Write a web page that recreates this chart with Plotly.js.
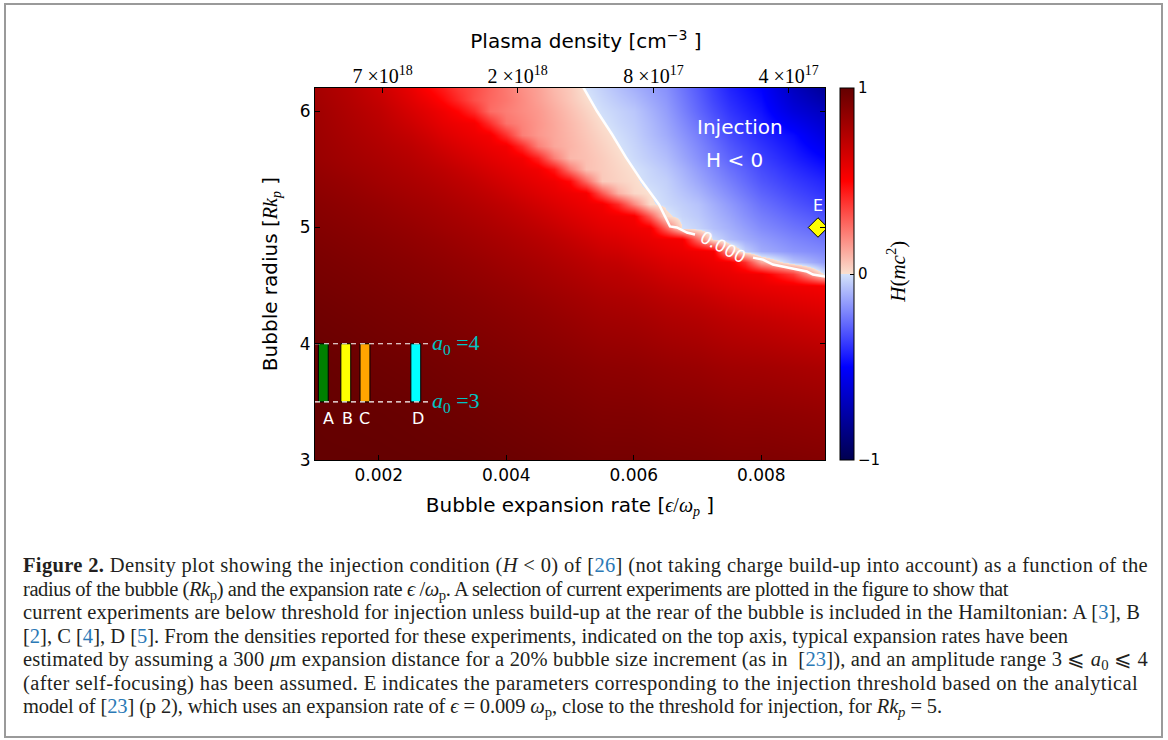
<!DOCTYPE html>
<html>
<head>
<meta charset="utf-8">
<script src="https://cdn.plot.ly/plotly-3.0.1.min.js"></script>
<style>
html,body{margin:0;padding:0;background:#fff;}
#wrap{position:relative;width:1168px;height:740px;overflow:hidden;background:#fff;}
#chart{position:absolute;left:0;top:0;width:1168px;height:740px;}
#frame{position:absolute;left:4px;top:3px;width:1155px;height:731px;border:2px solid #9a9a9a;pointer-events:none;}
#caption{position:absolute;left:23px;top:554px;font-family:'Liberation Serif','DejaVu Serif',serif;font-size:20.5px;line-height:23.5px;color:#231f20;}
#caption .ln{white-space:nowrap;height:23.5px;}
#caption .ln span{display:inline-block;transform-origin:0 50%;white-space:nowrap;}
#caption a{color:#2b79b6;text-decoration:none;}
#caption sub{font-size:0.72em;line-height:0;vertical-align:-0.28em;}
</style>
</head>
<body>
<div id="wrap">
<div id="chart"></div>
<div id="caption">
<div class="ln" data-w="1125"><span><b>Figure 2.</b> Density plot showing the injection condition (<i>H</i> &lt; 0) of [<a>26</a>] (not taking charge build-up into account) as a function of the</span></div>
<div class="ln" data-w="985"><span>radius of the bubble (<i>Rk</i><sub>p</sub>) and the expansion rate <i>ϵ</i> /<i>ω</i><sub>p</sub>. A selection of current experiments are plotted in the figure to show that</span></div>
<div class="ln" data-w="1117"><span>current experiments are below threshold for injection unless build-up at the rear of the bubble is included in the Hamiltonian: A [<a>3</a>], B</span></div>
<div class="ln" data-w="1045"><span>[<a>2</a>], C [<a>4</a>], D [<a>5</a>]. From the densities reported for these experiments, indicated on the top axis, typical expansion rates have been</span></div>
<div class="ln" data-w="1125"><span>estimated by assuming a 300 <i>μ</i>m expansion distance for a 20% bubble size increment (as in&nbsp; [<a>23</a>]), and an amplitude range 3 ⩽ <i>a</i><sub>0</sub> ⩽ 4</span></div>
<div class="ln" data-w="1115"><span>(after self-focusing) has been assumed. E indicates the parameters corresponding to the injection threshold based on the analytical</span></div>
<div class="ln" data-w="919"><span>model of [<a>23</a>] (p 2), which uses an expansion rate of <i>ϵ</i> = 0.009 <i>ω</i><sub>p</sub>, close to the threshold for injection, for <i>Rk<sub>p</sub></i> = 5.</span></div>
</div>
<div id="frame"></div>
</div>
<script>
// ---- Data ----
// Heatmap grid: bubble expansion rate (x) and bubble radius (y)
const xGrid = [0.001,0.0015,0.002,0.0025,0.00275,0.003,0.00325,0.0035,0.00375,0.004,0.00425,0.0045,0.00475,0.005,0.00525,0.0055,0.00575,0.006,0.00625,0.0065,0.00675,0.007,0.00725,0.0075,0.00775,0.008,0.0085,0.009];
const yGrid = [3.0,3.4,3.8,4.2,4.3,4.4,4.5,4.6,4.7,4.8,4.9,5.0,5.1,5.2,5.3,5.4,5.5,5.6,5.7,5.8,5.9,6.0,6.1,6.2];
// H(mc^2) values, one row per radius in yGrid
const hValues = [
 [1.0,1.0,0.999,0.996,0.994,0.992,0.991,0.987,0.982,0.977,0.972,0.967,0.961,0.955,0.949,0.942,0.942,0.942,0.936,0.931,0.928,0.925,0.92,0.914,0.912,0.913,0.906,0.899],
 [0.998,0.994,0.99,0.983,0.978,0.973,0.968,0.963,0.957,0.951,0.944,0.937,0.93,0.924,0.916,0.908,0.907,0.906,0.899,0.891,0.888,0.884,0.877,0.869,0.866,0.865,0.855,0.844],
 [0.99,0.98,0.969,0.959,0.953,0.946,0.939,0.933,0.926,0.919,0.91,0.902,0.894,0.885,0.876,0.866,0.862,0.859,0.849,0.84,0.833,0.826,0.815,0.805,0.8,0.796,0.782,0.767],
 [0.966,0.955,0.941,0.928,0.921,0.913,0.905,0.896,0.888,0.879,0.868,0.857,0.845,0.833,0.819,0.806,0.8,0.794,0.781,0.766,0.757,0.747,0.731,0.716,0.704,0.694,0.668,0.642],
 [0.96,0.947,0.933,0.92,0.911,0.903,0.895,0.886,0.877,0.866,0.855,0.844,0.83,0.816,0.803,0.789,0.781,0.774,0.76,0.744,0.733,0.72,0.704,0.685,0.67,0.655,0.629,0.603],
 [0.952,0.939,0.925,0.91,0.902,0.893,0.885,0.876,0.864,0.853,0.842,0.828,0.814,0.80,0.786,0.77,0.762,0.753,0.736,0.718,0.705,0.691,0.669,0.647,0.631,0.616,0.589,0.564],
 [0.944,0.931,0.917,0.90,0.892,0.883,0.873,0.862,0.851,0.84,0.826,0.81,0.797,0.782,0.766,0.75,0.738,0.727,0.71,0.688,0.672,0.653,0.631,0.61,0.592,0.576,0.55,0.529],
 [0.936,0.923,0.907,0.89,0.882,0.871,0.86,0.849,0.837,0.823,0.809,0.795,0.779,0.762,0.745,0.725,0.719,0.701,0.678,0.652,0.637,0.618,0.594,0.573,0.551,0.54,0.37,-0.02],
 [0.929,0.914,0.897,0.88,0.869,0.858,0.847,0.835,0.821,0.806,0.793,0.776,0.759,0.741,0.721,0.701,0.69,0.665,0.641,0.615,0.60,0.579,0.557,0.535,0.4,0.13,-0.066,-0.155],
 [0.921,0.904,0.887,0.867,0.856,0.845,0.832,0.818,0.804,0.79,0.773,0.757,0.737,0.716,0.694,0.666,0.653,0.629,0.604,0.579,0.562,0.544,0.525,0.14,-0.047,-0.12,-0.17,-0.2],
 [0.911,0.894,0.876,0.854,0.843,0.83,0.816,0.802,0.787,0.771,0.754,0.734,0.713,0.688,0.66,0.632,0.616,0.592,0.568,0.545,0.529,0.25,-0.017,-0.08,-0.12,-0.155,-0.205,-0.24],
 [0.901,0.884,0.863,0.841,0.827,0.812,0.80,0.785,0.768,0.751,0.73,0.709,0.683,0.654,0.625,0.597,0.58,0.556,0.535,0.28,-0.003,-0.033,-0.075,-0.11,-0.15,-0.19,-0.24,-0.28],
 [0.891,0.872,0.85,0.824,0.811,0.797,0.782,0.765,0.748,0.726,0.705,0.678,0.649,0.619,0.591,0.563,0.546,0.525,0.296,0.02,-0.03,-0.055,-0.095,-0.135,-0.18,-0.22,-0.275,-0.32],
 [0.882,0.86,0.836,0.807,0.795,0.778,0.762,0.744,0.723,0.702,0.673,0.644,0.614,0.585,0.557,0.533,0.408,0.197,0.01,-0.02,-0.045,-0.07,-0.115,-0.16,-0.205,-0.25,-0.31,-0.36],
 [0.869,0.846,0.818,0.79,0.776,0.759,0.74,0.72,0.697,0.668,0.638,0.609,0.58,0.552,0.527,0.306,0.104,0.02,0.0,-0.03,-0.065,-0.10,-0.145,-0.19,-0.235,-0.28,-0.34,-0.39],
 [0.856,0.832,0.80,0.772,0.756,0.736,0.716,0.693,0.663,0.634,0.604,0.575,0.547,0.482,0.265,0.052,0.031,0.01,-0.02,-0.04,-0.085,-0.13,-0.175,-0.22,-0.265,-0.31,-0.37,-0.42],
 [0.843,0.813,0.786,0.753,0.733,0.712,0.687,0.658,0.628,0.599,0.569,0.543,0.45,0.232,0.072,0.048,0.024,0.0,-0.03,-0.06,-0.105,-0.155,-0.20,-0.25,-0.29,-0.335,-0.40,-0.46],
 [0.83,0.80,0.77,0.735,0.71,0.682,0.653,0.624,0.594,0.565,0.538,0.425,0.222,0.09,0.072,0.045,0.015,-0.02,-0.05,-0.08,-0.13,-0.18,-0.23,-0.28,-0.32,-0.36,-0.43,-0.5],
 [0.825,0.79,0.755,0.715,0.685,0.648,0.618,0.589,0.559,0.535,0.404,0.215,0.13,0.098,0.066,0.034,0.002,-0.03,-0.065,-0.10,-0.15,-0.20,-0.25,-0.305,-0.345,-0.385,-0.455,-0.55],
 [0.82,0.78,0.74,0.69,0.655,0.613,0.584,0.556,0.53,0.393,0.219,0.163,0.127,0.092,0.057,0.022,-0.01,-0.04,-0.08,-0.12,-0.17,-0.22,-0.275,-0.33,-0.37,-0.41,-0.48,-0.6],
 [0.815,0.77,0.725,0.66,0.62,0.578,0.551,0.525,0.394,0.246,0.206,0.166,0.126,0.086,0.047,0.006,-0.025,-0.05,-0.09,-0.135,-0.19,-0.245,-0.30,-0.355,-0.395,-0.435,-0.54,-0.645],
 [0.81,0.76,0.71,0.63,0.59,0.546,0.493,0.403,0.26,0.22,0.19,0.16,0.116,0.073,0.03,-0.01,-0.035,-0.06,-0.105,-0.15,-0.21,-0.27,-0.325,-0.38,-0.42,-0.46,-0.6,-0.69],
 [0.80,0.75,0.69,0.60,0.55,0.486,0.411,0.325,0.27,0.235,0.19,0.146,0.10,0.056,0.011,-0.025,-0.055,-0.085,-0.125,-0.165,-0.225,-0.285,-0.345,-0.40,-0.44,-0.48,-0.64,-0.745],
 [0.79,0.74,0.67,0.57,0.5,0.44,0.374,0.33,0.278,0.23,0.18,0.14,0.087,0.05,-0.005,-0.04,-0.075,-0.11,-0.145,-0.18,-0.24,-0.30,-0.36,-0.42,-0.46,-0.50,-0.68,-0.80]
];
// Zero contour of H (two pieces, gap for the label)
const contourRate   = [0.005204,0.005424,0.005659,0.005878,0.006129,0.006396,0.006569,0.006678,0.006835,0.006961,null,0.007871,0.008027,0.008184,0.008341,0.008561,0.008718,0.008812,0.009016];
const contourRadius = [6.21,6.0,5.802,5.603,5.397,5.198,5.009,5.0,4.957,4.94,null,4.741,4.724,4.681,4.664,4.638,4.621,4.595,4.578];
// Experiments A-D (expansion rate) with a0 range 3..4 -> radius 3.5..4
const experiments = ['A','B','C','D'];
const expRates = [0.00113,0.001483,0.001784,0.002581];
const expLabelRates = [0.001204,0.001513,0.001784,0.002612];
const expColors = ['#008000','#ffff00','#ffa500','#00ffff'];
const radiusLow = [3.5,3.5,3.5,3.5];
const radiusSpan = [0.5,0.5,0.5,0.5];
const a0Levels = ['4','3'];
const a0Radius = [4.0,3.5];
const dashRate = [0.001,0.00278];
// Point E (analytical model threshold)
const eRate = [0.00889];
const eRadius = [5.0];
// Top axis: plasma density ticks
const densityRates = [0.00206,0.00418,0.00631,0.00843];
const densityLabels = ['7 ×10<sup>18</sup>','2 ×10<sup>18</sup>','8 ×10<sup>17</sup>','4 ×10<sup>17</sup>'];
const rateTicks = [0.002,0.004,0.006,0.008];
const rateTickText = ['0.002','0.004','0.006','0.008'];
const radiusTicks = [3,4,5,6];
const hTicks = [-1,0,1];
const hTickText = ['−1','0','1'];

const SERIF = 'Liberation Serif, DejaVu Serif, serif';
const SANS = 'DejaVu Sans, sans-serif';

const seismicScale = [[0,'rgb(0,0,80)'],[0.25,'rgb(0,0,255)'],[0.5,'rgb(212,226,250)'],[0.5,'rgb(250,224,208)'],[0.75,'rgb(255,0,0)'],[1,'rgb(100,0,0)']];

const traces = [
  {type:'heatmap', x:xGrid, y:yGrid, z:hValues, zsmooth:'best', zmin:-1, zmax:1,
   colorscale:seismicScale, hoverinfo:'skip',
   colorbar:{x:1.0294, xanchor:'left', y:0.5, yanchor:'middle', len:1, lenmode:'fraction',
     thickness:14, thicknessmode:'pixels', outlinewidth:1, outlinecolor:'#000', xpad:0, ypad:0,
     tickvals:hTicks, ticktext:hTickText, ticks:'inside', ticklen:4, tickcolor:'#000',
     tickfont:{family:SANS, size:15, color:'#000'}}},
  {type:'bar', x:expRates, y:radiusSpan, base:radiusLow, width:0.000155,
   marker:{color:expColors, line:{color:'#000', width:1}}, hoverinfo:'skip'},
  {type:'scatter', mode:'lines', x:[dashRate[0],dashRate[1],null,dashRate[0],dashRate[1]],
   y:[a0Radius[0],a0Radius[0],null,a0Radius[1],a0Radius[1]],
   line:{color:'#ffffff', width:1.2, dash:'5px,4px'}, hoverinfo:'skip'},
  {type:'scatter', mode:'lines', x:contourRate, y:contourRadius, connectgaps:false,
   line:{color:'#ffffff', width:2.5}, hoverinfo:'skip'},
  {type:'scatter', mode:'markers', x:eRate, y:eRadius, cliponaxis:true,
   marker:{symbol:'diamond', size:15, color:'#ffff00', line:{color:'#000', width:1}}, hoverinfo:'skip'},
  {type:'scatter', mode:'markers', x:densityRates, y:[3,3,3,3], xaxis:'x2', yaxis:'y',
   marker:{opacity:0}, hoverinfo:'skip'}
];

const annotations = [
  {x:0.007667, y:5.862, text:'Injection', showarrow:false, font:{family:SANS, size:20, color:'#fff'}},
  {x:0.007588, y:5.578, text:'H &lt; 0', showarrow:false, font:{family:SANS, size:20, color:'#fff'}},
  {x:0.0074, y:4.836, text:'0.000', textangle:28, showarrow:false, font:{family:SANS, size:17, color:'#fff'}},
  {x:0.00889, y:5.19, text:'E', showarrow:false, font:{family:SANS, size:16, color:'#fff'}},
  {xref:'paper', yref:'paper', x:1.1412, y:0.506, xanchor:'center', yanchor:'middle', text:'<i>H</i>(<i>mc</i><sup>2</sup>)', textangle:-90, showarrow:false, font:{family:SERIF, size:21, color:'#000'}}
];
experiments.forEach((lab,i)=>{
  annotations.push({x:expLabelRates[i], y:3.36, text:lab, showarrow:false, font:{family:SANS, size:16, color:'#fff'}});
});
a0Levels.forEach((lev,i)=>{
  annotations.push({x:0.0028, y:a0Radius[i], xanchor:'left', text:'<i>a</i><sub>0</sub> =' + lev, showarrow:false, font:{family:SERIF, size:22, color:'#00c4c4'}});
});

const layout = {
  width:1168, height:740,
  margin:{l:315, r:343, t:88, b:280, pad:0},
  paper_bgcolor:'rgba(0,0,0,0)', plot_bgcolor:'#ffffff',
  showlegend:false,
  font:{family:SANS, size:17, color:'#000'},
  xaxis:{range:[0.001,0.009], tickvals:rateTicks, ticktext:rateTickText, ticks:'inside', ticklen:5, tickwidth:1, tickcolor:'#000',
    showline:true, linecolor:'#000', linewidth:1, mirror:true, showgrid:false, zeroline:false,
    tickfont:{family:SANS, size:17, color:'#000'},
    title:{text:'Bubble expansion rate [<span style="font-family:Liberation Serif, DejaVu Serif"><i>ϵ</i>/<i>ω<sub>p</sub></i></span> ]', font:{family:SANS, size:20, color:'#000'}, standoff:13}},
  xaxis2:{overlaying:'x', side:'top', range:[0.001,0.009], tickvals:densityRates, ticktext:densityLabels, ticks:'inside', ticklen:5, tickcolor:'#000',
    showline:false, showgrid:false, zeroline:false, tickfont:{family:SERIF, size:20, color:'#000'},
    title:{text:'&nbsp;&nbsp;&nbsp;&nbsp;&nbsp;Plasma density [cm<sup>−3</sup> ]', font:{family:SANS, size:20, color:'#000'}, standoff:8}},
  yaxis:{range:[3,6.2], tickvals:radiusTicks, ticks:'inside', ticklen:5, tickwidth:1, tickcolor:'#000',
    showline:true, linecolor:'#000', linewidth:1, mirror:'ticks', showgrid:false, zeroline:false,
    tickfont:{family:SANS, size:17, color:'#000'},
    title:{text:'Bubble radius [<span style="font-family:Liberation Serif, DejaVu Serif"><i>Rk<sub>p</sub></i></span> ]', font:{family:SANS, size:20, color:'#000'}, standoff:16}},
  annotations:annotations
};

Plotly.newPlot('chart', traces, layout, {staticPlot:true, displayModeBar:false});

// fit each caption line to the width it has in the reference (tighter/looser setting, then a small scale)
function fitCaption(){
  document.querySelectorAll('#caption .ln').forEach(function(ln){
    var sp = ln.querySelector('span');
    sp.style.transform = 'none';
    sp.style.letterSpacing = '0px';
    var target = parseFloat(ln.getAttribute('data-w'));
    var w = sp.getBoundingClientRect().width;
    var n = sp.textContent.length;
    if (!(w > 0) || !n) return;
    var ls = Math.max(-0.45, Math.min(0.45, (target - w) / n));
    sp.style.letterSpacing = ls.toFixed(3) + 'px';
    var w2 = sp.getBoundingClientRect().width;
    if (w2 > 0) sp.style.transform = 'scaleX(' + (target / w2).toFixed(4) + ')';
  });
}
fitCaption();
if (document.fonts && document.fonts.ready) document.fonts.ready.then(fitCaption);
</script>
</body>
</html>
